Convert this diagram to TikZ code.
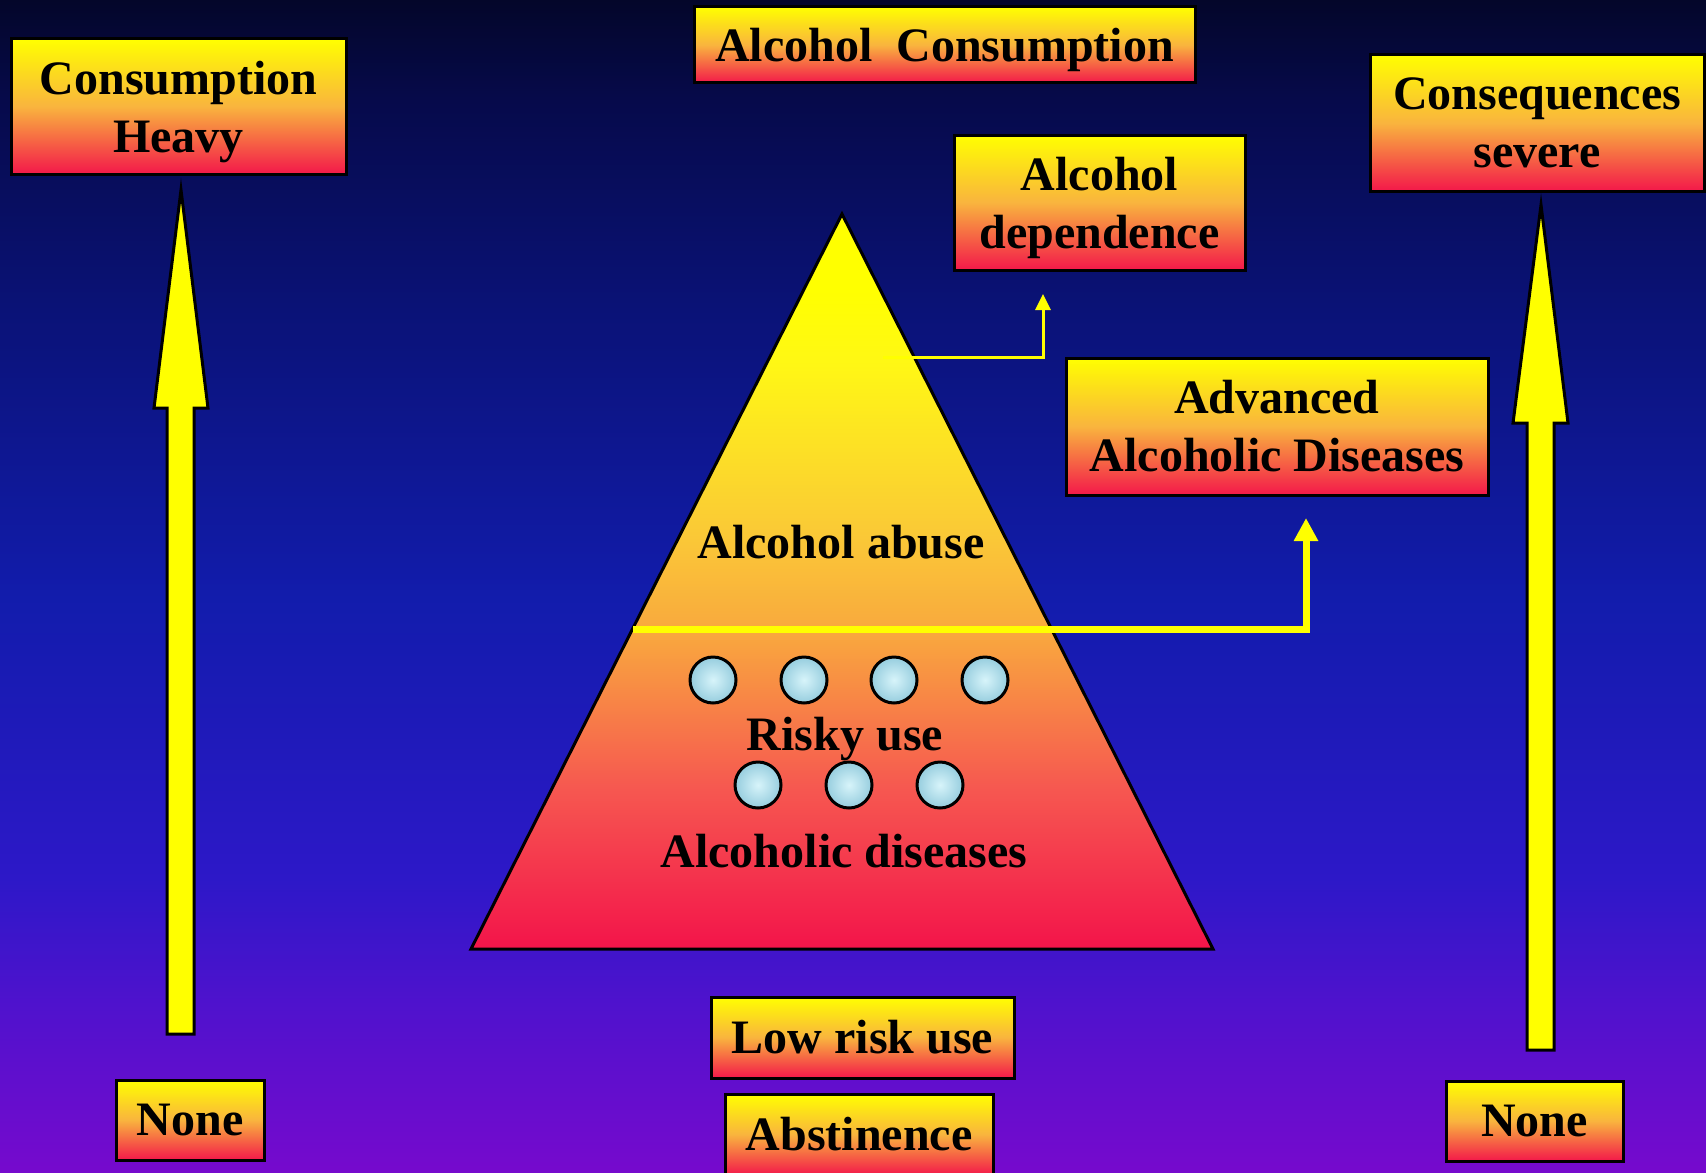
\documentclass[tikz,border=0pt]{standalone}
\usepackage{fontspec}
\setmainfont{Liberation Serif}
\usetikzlibrary{arrows.meta}
\definecolor{BgTop}{RGB}{4,6,42}
\definecolor{BgDeep}{RGB}{6,10,75}
\definecolor{BgNavy}{RGB}{10,18,118}
\definecolor{BgBlue}{RGB}{18,28,172}
\definecolor{BgIndigo}{RGB}{45,24,200}
\definecolor{BgViolet}{RGB}{80,18,205}
\definecolor{BgPurple}{RGB}{118,10,205}
\definecolor{PyrRed}{RGB}{243,20,74}
\definecolor{PyrCoral}{RGB}{246,88,80}
\definecolor{PyrOrange}{RGB}{249,168,62}
\definecolor{PyrAmber}{RGB}{250,200,55}
\definecolor{PyrYellow}{RGB}{255,248,20}
\definecolor{BoxYellow}{RGB}{255,255,0}
\definecolor{BoxOrange}{RGB}{249,180,62}
\definecolor{BoxRed}{RGB}{243,24,74}
\definecolor{BeadLight}{RGB}{215,244,250}
\definecolor{BeadBlue}{RGB}{150,205,222}
\pgfdeclareverticalshading{slidebg}{100bp}{color(0bp)=(BgPurple); color(25bp)=(BgPurple); color(32bp)=(BgViolet); color(37.5bp)=(BgIndigo); color(49.5bp)=(BgBlue); color(62bp)=(BgNavy); color(70.7bp)=(BgDeep); color(75bp)=(BgTop); color(100bp)=(BgTop)}
\pgfdeclareverticalshading{pyramidfill}{100bp}{color(0bp)=(PyrRed); color(25bp)=(PyrRed); color(36bp)=(PyrCoral); color(46.5bp)=(PyrOrange); color(53bp)=(PyrAmber); color(65bp)=(PyrYellow); color(70bp)=(BoxYellow); color(100bp)=(BoxYellow)}
% keep descenders out of the vertical centering
\newcommand{\flatdepth}[1]{\raisebox{0pt}[\height][0pt]{#1}}

\begin{document}
\begin{tikzpicture}[x=0.5pt, y={(0pt,-0.5pt)}]
    \tikzstyle{slidebox}=[draw=black, line width=1.5pt, top color=BoxYellow, bottom color=BoxRed, middle color=BoxOrange, align=center, inner sep=0pt, font=\fontsize{24}{29}\selectfont\bfseries]
    \tikzstyle{pyrtext}=[anchor=base, inner sep=0pt, font=\fontsize{24}{29}\selectfont\bfseries]
    \tikzstyle{bead}=[circle, draw=black, line width=1.5pt, minimum size=23pt, inner sep=0pt, shading=radial, inner color=BeadLight, outer color=BeadBlue]
    \tikzstyle{bigarrow}=[draw=black, line width=1.5pt, fill=BoxYellow, line join=miter]

    \useasboundingbox (0,0) rectangle (1706,1172);
    \shade[shading=slidebg] (0,0) rectangle (1706,1172);

    % pyramid
    \coordinate (apex) at (842,214);
    \coordinate (baseL) at (471,949);
    \coordinate (baseR) at (1213,949);
    \shadedraw[shading=pyramidfill, draw=black, line width=1.5pt, line join=miter] (apex) -- (baseL) -- (baseR) -- cycle;

    \node[pyrtext] (abuse) at (841,558) {Alcohol abuse};
    \node[pyrtext] (risky) at (845,750) {Risky use};
    \node[pyrtext] (diseases) at (844,867) {Alcoholic diseases};

    \node[bead] (b1) at (713,680) {};
    \node[bead] (b2) at (804,680) {};
    \node[bead] (b3) at (894,680) {};
    \node[bead] (b4) at (985,680) {};
    \node[bead] (b5) at (758,785) {};
    \node[bead] (b6) at (849,785) {};
    \node[bead] (b7) at (940,785) {};

    % side arrows
    \draw[bigarrow] (167,1034) -- (167,408) -- (154,408) -- (181,190) -- (208,408) -- (194,408) -- (194,1034) -- cycle;
    \draw[bigarrow] (1527,1050) -- (1527,423) -- (1513,423) -- (1541,205) -- (1568,423) -- (1554,423) -- (1554,1050) -- cycle;

    % boxes
    \node[slidebox, minimum width=167.5pt, minimum height=67.5pt] (heavy) at (178.5,106.5) {Consumption\\\flatdepth{Heavy}};
    \node[slidebox, minimum width=250.5pt, minimum height=38pt] (alcohol) at (944.5,45) {\flatdepth{Alcohol~~Consumption}};
    \node[slidebox, minimum width=145.5pt, minimum height=67.5pt] (dependence) at (1099.5,202.5) {Alcohol\\\flatdepth{dependence}};
    \node[slidebox, minimum width=167pt, minimum height=68pt] (severe) at (1537,123) {Consequences\\severe};
    \node[slidebox, minimum width=211pt, minimum height=68.5pt] (advanced) at (1277,426.5) {Advanced\\Alcoholic Diseases};
    \node[slidebox, minimum width=151.5pt, minimum height=40.5pt] (lowrisk) at (862.5,1037.5) {Low risk use};
    \node[slidebox, minimum width=134pt, minimum height=40.5pt] (abstinence) at (859,1134.5) {Abstinence};
    \node[slidebox, minimum width=74pt, minimum height=40pt] (noneL) at (190,1120) {None};
    \node[slidebox, minimum width=88.5pt, minimum height=40pt] (noneR) at (1534.5,1121) {None};

    % elbow arrows out of the pyramid
    \coordinate (abusetop) at (883,357);
    \coordinate (depin) at (1043,294);
    \coordinate (abusebase) at (633,629);
    \coordinate (advin) at (1306,518);
    \draw[BoxYellow, line width=1.5pt, -{Triangle[width=7.5pt,length=8pt]}] (abusetop) -| (depin);
    \draw[BoxYellow, line width=3.5pt, -{Triangle[width=11.5pt,length=11.5pt]}] (abusebase) -| (advin);
\end{tikzpicture}
\end{document}
